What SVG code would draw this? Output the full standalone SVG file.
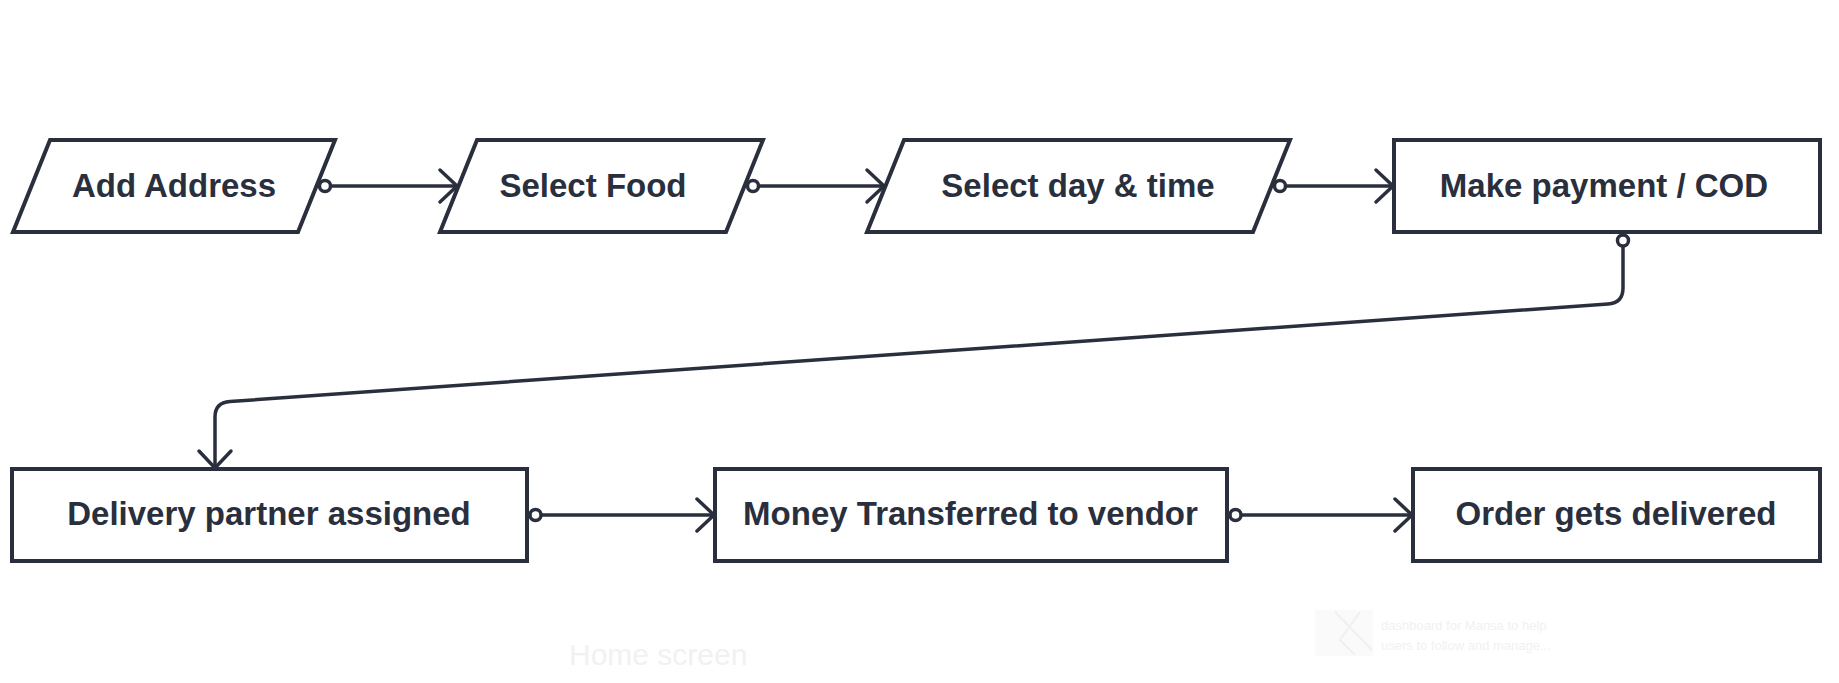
<svg xmlns="http://www.w3.org/2000/svg" width="1839" height="683" viewBox="0 0 1839 683">
<style>
.shape{fill:#ffffff;stroke:#2a2f3d;stroke-width:4;stroke-linejoin:miter}
.lbl{font-family:"Liberation Sans",Arial,sans-serif;font-weight:bold;font-size:33px;fill:#2a2f3d;text-anchor:middle}
.conn{fill:none;stroke:#2a2f3d;stroke-width:3.5;marker-start:url(#dot);marker-end:url(#arrow)}
.faint{font-family:"Liberation Sans",Arial,sans-serif;fill:#f1f1f3}
</style>
<defs>
<marker id="arrow" markerUnits="userSpaceOnUse" viewBox="-20 -20 22 40" refX="0" refY="0" markerWidth="22" markerHeight="40" orient="auto" overflow="visible">
<path d="M-17,-16 L0,0 L-17,16" fill="none" stroke="#2a2f3d" stroke-width="3.5" stroke-linecap="round" stroke-linejoin="miter"/>
</marker>
<marker id="dot" markerUnits="userSpaceOnUse" viewBox="-10 -10 20 20" refX="0" refY="0" markerWidth="20" markerHeight="20" orient="auto" overflow="visible">
<circle cx="0" cy="0" r="5.5" fill="#ffffff" stroke="#2a2f3d" stroke-width="3.5"/>
</marker>
</defs>
<rect width="1839" height="683" fill="#ffffff"/>

<g id="connectors">
<path class="conn" d="M325,186 H457"/>
<path class="conn" d="M753,186 H884"/>
<path class="conn" d="M1280,186 H1393"/>
<path class="conn" d="M1623,240.5 V288 Q1623,303 1608,304 L230,401.5 Q215,402.5 215,417 V468"/>
<path class="conn" d="M535.5,515 H714"/>
<path class="conn" d="M1235.5,515 H1412"/>
</g>

<g id="add-address">
<polygon class="shape" points="50,140 335,140 298,232 13,232"/>
<text class="lbl" x="174" y="197">Add Address</text>
</g>
<g id="select-food">
<polygon class="shape" points="477,140 763,140 726,232 440,232"/>
<text class="lbl" x="593" y="197">Select Food</text>
</g>
<g id="select-day-time">
<polygon class="shape" points="904,140 1290,140 1253,232 867,232"/>
<text class="lbl" x="1078" y="197">Select day &amp; time</text>
</g>
<g id="make-payment">
<rect class="shape" x="1394" y="140" width="426" height="92"/>
<text class="lbl" x="1604" y="197">Make payment / COD</text>
</g>
<g id="delivery-partner">
<rect class="shape" x="12" y="469" width="515" height="92"/>
<text class="lbl" x="269" y="525">Delivery partner assigned</text>
</g>
<g id="money-transferred">
<rect class="shape" x="715" y="469" width="512" height="92"/>
<text class="lbl" x="970.5" y="525">Money Transferred to vendor</text>
</g>
<g id="order-delivered">
<rect class="shape" x="1413" y="469" width="407" height="92"/>
<text class="lbl" x="1616" y="525">Order gets delivered</text>
</g>

<g id="background-faint">
<text class="faint" x="569" y="665" font-size="30" fill="#f2f2f2">Home screen</text>
<rect x="1315" y="610" width="58" height="46" fill="#fafafb"/>
<path d="M1335,612 L1372,650 M1360,612 L1340,640 L1355,655" fill="none" stroke="#f0f0f2" stroke-width="2"/>
<text class="faint" x="1381" y="630" font-size="13">dashboard for Mansa to help</text>
<text class="faint" x="1381" y="650" font-size="13">users to follow and manage...</text>
</g>
</svg>
